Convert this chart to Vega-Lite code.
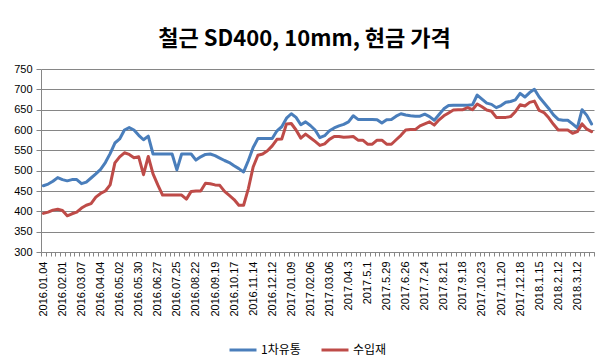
{
  "$schema": "https://vega.github.io/schema/vega-lite/v6.json",
  "width": 553,
  "height": 183,
  "autosize": {"type": "none"},
  "padding": {"left": 41, "top": 69, "right": 16, "bottom": 112},
  "background": "white",
  "title": {"text": "철근 SD400, 10mm, 현금 가격", "font": "Noto Sans CJK KR", "fontSize": 22, "fontWeight": "bold", "color": "#000000", "anchor": "middle", "dx": -13, "offset": 12},
  "data": {"values": [
    {"d": "2016.01.04", "1차유통": 463, "수입재": 395},
    {"d": "2016.01.11", "1차유통": 467, "수입재": 398},
    {"d": "2016.01.18", "1차유통": 474, "수입재": 403},
    {"d": "2016.01.25", "1차유통": 483, "수입재": 405},
    {"d": "2016.02.01", "1차유통": 478, "수입재": 402},
    {"d": "2016.02.15", "1차유통": 475, "수입재": 389},
    {"d": "2016.02.22", "1차유통": 478, "수입재": 394},
    {"d": "2016.02.29", "1차유통": 478, "수입재": 398},
    {"d": "2016.03.07", "1차유통": 468, "수입재": 408},
    {"d": "2016.03.14", "1차유통": 472, "수입재": 415},
    {"d": "2016.03.21", "1차유통": 482, "수입재": 419},
    {"d": "2016.03.28", "1차유통": 492, "수입재": 435},
    {"d": "2016.04.04", "1차유통": 503, "수입재": 444},
    {"d": "2016.04.11", "1차유통": 520, "수입재": 450},
    {"d": "2016.04.18", "1차유통": 542, "수입재": 465},
    {"d": "2016.04.25", "1차유통": 568, "수입재": 519},
    {"d": "2016.05.02", "1차유통": 578, "수입재": 534},
    {"d": "2016.05.09", "1차유통": 600, "수입재": 544},
    {"d": "2016.05.16", "1차유통": 606, "수입재": 540},
    {"d": "2016.05.23", "1차유통": 600, "수입재": 532},
    {"d": "2016.05.30", "1차유통": 587, "수입재": 534},
    {"d": "2016.06.06", "1차유통": 576, "수입재": 490},
    {"d": "2016.06.13", "1차유통": 585, "수입재": 535},
    {"d": "2016.06.20", "1차유통": 541, "수입재": 492},
    {"d": "2016.06.27", "1차유통": 541, "수입재": 465},
    {"d": "2016.07.04", "1차유통": 541, "수입재": 440},
    {"d": "2016.07.11", "1차유통": 541, "수입재": 440},
    {"d": "2016.07.18", "1차유통": 541, "수입재": 440},
    {"d": "2016.07.25", "1차유통": 502, "수입재": 440},
    {"d": "2016.08.01", "1차유통": 541, "수입재": 440},
    {"d": "2016.08.08", "1차유통": 541, "수입재": 430},
    {"d": "2016.08.15", "1차유통": 541, "수입재": 449},
    {"d": "2016.08.22", "1차유통": 526, "수입재": 450},
    {"d": "2016.08.29", "1차유통": 534, "수입재": 450},
    {"d": "2016.09.05", "1차유통": 540, "수입재": 469},
    {"d": "2016.09.12", "1차유통": 541, "수입재": 468},
    {"d": "2016.09.19", "1차유통": 537, "수입재": 465},
    {"d": "2016.09.26", "1차유통": 531, "수입재": 464},
    {"d": "2016.10.03", "1차유통": 525, "수입재": 449},
    {"d": "2016.10.10", "1차유통": 520, "수입재": 439},
    {"d": "2016.10.17", "1차유통": 512, "수입재": 429},
    {"d": "2016.10.24", "1차유통": 505, "수입재": 415},
    {"d": "2016.10.31", "1차유통": 497, "수입재": 415},
    {"d": "2016.11.07", "1차유통": 525, "수입재": 456},
    {"d": "2016.11.14", "1차유통": 557, "수입재": 509},
    {"d": "2016.11.21", "1차유통": 579, "수입재": 538},
    {"d": "2016.11.28", "1차유통": 579, "수입재": 541},
    {"d": "2016.12.05", "1차유통": 579, "수입재": 549},
    {"d": "2016.12.12", "1차유통": 579, "수입재": 561},
    {"d": "2016.12.19", "1차유통": 598, "수입재": 577},
    {"d": "2016.12.26", "1차유통": 608, "수입재": 578},
    {"d": "2017.01.02", "1차유통": 629, "수입재": 615},
    {"d": "2017.01.09", "1차유통": 640, "수입재": 616},
    {"d": "2017.01.16", "1차유통": 631, "수입재": 600},
    {"d": "2017.01.23", "1차유통": 613, "수입재": 580},
    {"d": "2017.01.30", "1차유통": 620, "수입재": 590},
    {"d": "2017.02.06", "1차유통": 611, "수입재": 581},
    {"d": "2017.02.13", "1차유통": 600, "수입재": 572},
    {"d": "2017.02.20", "1차유통": 581, "수입재": 562},
    {"d": "2017.02.27", "1차유통": 586, "수입재": 566},
    {"d": "2017.03.06", "1차유통": 598, "수입재": 577},
    {"d": "2017.03.13", "1차유통": 605, "수입재": 584},
    {"d": "2017.03.20", "1차유통": 610, "수입재": 584},
    {"d": "2017.03.27", "1차유통": 614, "수입재": 582},
    {"d": "2017.04.3", "1차유통": 620, "수입재": 583},
    {"d": "2017.4.10", "1차유통": 635, "수입재": 584},
    {"d": "2017.4.17", "1차유통": 626, "수입재": 575},
    {"d": "2017.4.24", "1차유통": 626, "수입재": 575},
    {"d": "2017.5.1", "1차유통": 626, "수입재": 565},
    {"d": "2017.5.8", "1차유통": 626, "수입재": 565},
    {"d": "2017.5.15", "1차유통": 625, "수입재": 575},
    {"d": "2017.5.22", "1차유통": 617, "수입재": 575},
    {"d": "2017.5.29", "1차유통": 625, "수입재": 565},
    {"d": "2017.6.5", "1차유통": 626, "수입재": 565},
    {"d": "2017.6.12", "1차유통": 634, "수입재": 576},
    {"d": "2017.6.19", "1차유통": 640, "수입재": 587},
    {"d": "2017.6.26", "1차유통": 637, "수입재": 600},
    {"d": "2017.7.3", "1차유통": 635, "수입재": 601},
    {"d": "2017.7.10", "1차유통": 634, "수입재": 601},
    {"d": "2017.7.17", "1차유통": 634, "수입재": 610},
    {"d": "2017.7.24", "1차유통": 639, "수입재": 615},
    {"d": "2017.7.31", "1차유통": 633, "수입재": 620},
    {"d": "2017.8.7", "1차유통": 624, "수입재": 612},
    {"d": "2017.8.14", "1차유통": 638, "수입재": 625},
    {"d": "2017.8.21", "1차유통": 652, "수입재": 635},
    {"d": "2017.8.28", "1차유통": 660, "수입재": 642},
    {"d": "2017.9.4", "1차유통": 661, "수입재": 649},
    {"d": "2017.9.11", "1차유통": 661, "수입재": 650},
    {"d": "2017.9.18", "1차유통": 661, "수입재": 650},
    {"d": "2017.9.25", "1차유통": 661, "수입재": 655},
    {"d": "2017.10.9", "1차유통": 662, "수입재": 650},
    {"d": "2017.10.16", "1차유통": 686, "수입재": 664},
    {"d": "2017.10.23", "1차유통": 676, "수입재": 657},
    {"d": "2017.10.30", "1차유통": 666, "수입재": 649},
    {"d": "2017.11.6", "1차유통": 663, "수입재": 646},
    {"d": "2017.11.13", "1차유통": 655, "수입재": 631},
    {"d": "2017.11.20", "1차유통": 660, "수입재": 631},
    {"d": "2017.11.27", "1차유통": 668, "수입재": 631},
    {"d": "2017.12.4", "1차유통": 670, "수입재": 633},
    {"d": "2017.12.11", "1차유통": 674, "수입재": 645},
    {"d": "2017.12.18", "1차유통": 690, "수입재": 662},
    {"d": "2017.12.25", "1차유통": 681, "수입재": 659},
    {"d": "2018.1.1", "1차유통": 692, "수입재": 668},
    {"d": "2018.1.8", "1차유통": 700, "수입재": 671},
    {"d": "2018.1.15", "1차유통": 681, "수입재": 648},
    {"d": "2018.1.22", "1차유통": 667, "수입재": 643},
    {"d": "2018.1.29", "1차유통": 653, "수입재": 630},
    {"d": "2018.2.5", "1차유통": 637, "수입재": 614},
    {"d": "2018.2.12", "1차유통": 626, "수입재": 600},
    {"d": "2018.2.19", "1차유통": 624, "수입재": 600},
    {"d": "2018.2.26", "1차유통": 624, "수입재": 600},
    {"d": "2018.3.5", "1차유통": 615, "수입재": 592},
    {"d": "2018.3.12", "1차유통": 605, "수입재": 596},
    {"d": "2018.3.19", "1차유통": 650, "수입재": 615},
    {"d": "2018.3.26", "1차유통": 636, "수입재": 602},
    {"d": "2018.4.2", "1차유통": 615, "수입재": 596}
  ]},
  "transform": [{"fold": ["1차유통", "수입재"], "as": ["series", "value"]}],
  "mark": {"type": "line", "strokeWidth": 3, "strokeJoin": "round", "strokeCap": "round"},
  "encoding": {
    "x": {
      "field": "d", "type": "ordinal", "sort": null,
      "scale": {"type": "band", "paddingInner": 0, "paddingOuter": 0},
      "axis": {
        "title": null, "tickBand": "extent", "grid": false, "labelAngle": -90,
        "labelFont": "Liberation Sans", "labelFontSize": 11, "labelColor": "#000000",
        "labelOverlap": false, "labelPadding": 5, "tickSize": 4, "tickColor": "#868686",
        "domainColor": "#868686",
        "labelExpr": "indexof(domain('x'), datum.value) % 4 === 0 ? datum.label : ''"
      }
    },
    "y": {
      "field": "value", "type": "quantitative",
      "scale": {"domain": [300, 750], "nice": false, "zero": false},
      "axis": {
        "title": null, "values": [300, 350, 400, 450, 500, 550, 600, 650, 700, 750],
        "grid": true, "gridColor": "#868686", "domainColor": "#868686", "tickColor": "#868686",
        "tickSize": 5, "labelFont": "Liberation Sans", "labelFontSize": 11, "labelColor": "#000000", "labelPadding": 4
      }
    },
    "color": {
      "field": "series", "type": "nominal",
      "scale": {"domain": ["1차유통", "수입재"], "range": ["#4a7ebb", "#be4b48"]},
      "legend": {
        "orient": "none", "legendX": 187, "legendY": 266, "direction": "horizontal", "title": null,
        "symbolType": "stroke", "symbolSize": 729, "symbolStrokeWidth": 3,
        "labelFont": "Noto Sans CJK KR", "labelFontSize": 12, "labelColor": "#000000",
        "labelOffset": 3, "columnPadding": 14
      }
    }
  },
  "config": {"view": {"stroke": null}}
}
